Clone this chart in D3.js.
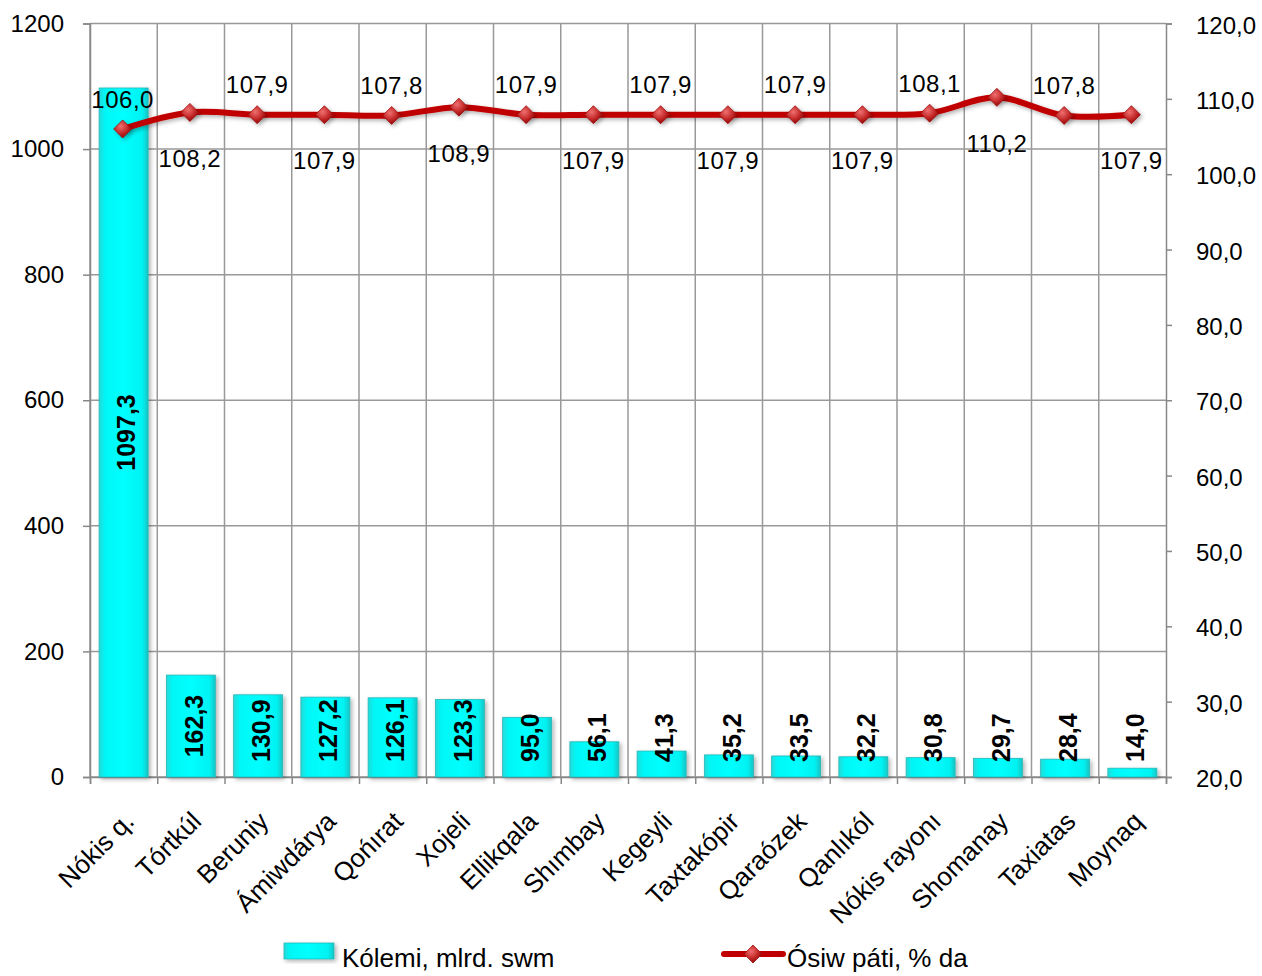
<!DOCTYPE html>
<html><head><meta charset="utf-8">
<script src="https://cdn.jsdelivr.net/npm/d3@7"></script>
<style>
body{margin:0;background:#fff;}
svg{display:block;font-family:"Liberation Sans",Arial,sans-serif;}
</style></head>
<body>
<svg id="chart" width="1262" height="976"></svg>
<script>
const categories = ["Nókis q.","Tórtkúl","Beruniy","Ámiwdárya","Qońırat","Xojeli","Ellikqala","Shımbay","Kegeyli","Taxtakópir","Qaraózek","Qanlıkól","Nókis rayonı","Shomanay","Taxiatas","Moynaq"];
const volume = [1097.3,162.3,130.9,127.2,126.1,123.3,95.0,56.1,41.3,35.2,33.5,32.2,30.8,29.7,28.4,14.0];
const growth = [106.0,108.2,107.9,107.9,107.8,108.9,107.9,107.9,107.9,107.9,107.9,107.9,108.1,110.2,107.8,107.9];
const leftTicks = [0,200,400,600,800,1000,1200];
const rightTicks = [20,30,40,50,60,70,80,90,100,110,120];
const seriesNames = ["Kólemi, mlrd. swm","Ósiw páti, % da"];

const fmt = v => v.toFixed(1).replace(".", ",");
const svg = d3.select("#chart");
const L = 90, R = 1166, T = 23.5, B = 777;
const FONT = "'Liberation Sans',Arial,sans-serif";

const x = d3.scaleBand().domain(categories).range([L, R]).paddingInner(0).paddingOuter(0);
const yL = d3.scaleLinear().domain([0,1200]).range([B, T]);
const yR = d3.scaleLinear().domain([20,120]).range([B, T]);

const defs = svg.append("defs");
const g1 = defs.append("linearGradient").attr("id","barGrad").attr("x1","0").attr("x2","1").attr("y1","0").attr("y2","0");
[["0%","#27d9d9"],["12%","#00f6f6"],["50%","#00ffff"],["88%","#00f2f2"],["100%","#17c4c4"]].forEach(s=>g1.append("stop").attr("offset",s[0]).attr("stop-color",s[1]));
const rg = defs.append("radialGradient").attr("id","mkGrad").attr("cx","40%").attr("cy","35%").attr("r","70%");
[["0%","#f07070"],["55%","#c42a2a"],["100%","#8a0000"]].forEach(s=>rg.append("stop").attr("offset",s[0]).attr("stop-color",s[1]));
const sh = defs.append("filter").attr("id","shadow").attr("x","-30%").attr("y","-30%").attr("width","160%").attr("height","160%");
sh.append("feDropShadow").attr("dx",2).attr("dy",2).attr("stdDeviation",2).attr("flood-color","#000").attr("flood-opacity",0.3);

// grid
const grid = svg.append("g");
leftTicks.forEach(t => grid.append("line").attr("x1",L).attr("x2",R).attr("y1",yL(t)).attr("y2",yL(t)).attr("stroke","#999").attr("stroke-width",1.5));
categories.forEach(c => grid.append("line").attr("x1",x(c)).attr("x2",x(c)).attr("y1",T).attr("y2",B).attr("stroke","#999").attr("stroke-width",1.5));

// axes
const axL = svg.append("g").attr("transform",`translate(${L},0)`)
  .call(d3.axisLeft(yL).tickValues(leftTicks).tickSize(7).tickPadding(19).tickFormat(d3.format("d")));
const axR = svg.append("g").attr("transform",`translate(${R},0)`)
  .call(d3.axisRight(yR).tickValues(rightTicks).tickSize(6).tickPadding(24).tickFormat(fmt));
const bounds = categories.map(c=>x(c)).concat([R]);
const axB = svg.append("g").attr("transform",`translate(0,${B})`)
  .call(d3.axisBottom(d3.scaleLinear().domain([L,R]).range([L,R])).tickValues(bounds).tickSize(7).tickFormat(""));
[axL,axR,axB].forEach(a=>{
  a.selectAll("path.domain").attr("stroke","#888").attr("stroke-width",1.5);
  a.selectAll(".tick line").attr("stroke","#888").attr("stroke-width",1.5);
  a.selectAll("text").attr("font-size",24).attr("fill","#000").attr("font-family",FONT);
});
axR.selectAll("text").attr("dy","0.4em");

// category labels
svg.append("g").selectAll("text").data(categories).join("text")
  .attr("transform", d => `translate(${x(d)+x.bandwidth()/2+12},${B+46}) rotate(-45)`)
  .attr("text-anchor","end").attr("font-size",26).text(d=>d);

// bars
const bw = 49;
const bars = svg.append("g");
bars.selectAll("rect").data(volume).join("rect")
  .attr("x",(d,i)=>x(categories[i])+x.bandwidth()/2-bw/2)
  .attr("width",bw)
  .attr("y",d=>yL(d)).attr("height",d=>B-yL(d))
  .attr("fill","url(#barGrad)").attr("stroke","#25b8b8").attr("stroke-width",0.8)
  .attr("filter","url(#shadow)");

// bar labels
const bl = svg.append("g").selectAll("text").data(volume).join("text")
  .attr("font-size",25).attr("font-weight","bold").attr("text-anchor","middle").attr("dy","0.35em")
  .text(d=>fmt(d));
bl.each(function(d,i){
  const len = this.getComputedTextLength();
  const cx = x(categories[i])+x.bandwidth()/2+3;
  const cy = Math.min((yL(d)+B)/2, B-15-len/2);
  d3.select(this).attr("transform",`translate(${cx},${cy}) rotate(-90)`);
});

// line
const pts = growth.map((v,i)=>[x(categories[i])+x.bandwidth()/2-1, yR(v)]);
svg.append("path").attr("d", d3.line().curve(d3.curveCatmullRom.alpha(0.5))(pts))
  .attr("fill","none").attr("stroke","#c00000").attr("stroke-width",6).attr("filter","url(#shadow)");
const diamond = "M0,-9L9,0L0,9L-9,0Z";
svg.append("g").selectAll("path").data(pts).join("path")
  .attr("d",diamond).attr("transform",p=>`translate(${p[0]},${p[1]})`)
  .attr("fill","url(#mkGrad)").attr("stroke","#a01010").attr("stroke-width",0.8).attr("filter","url(#shadow)");

// line labels
svg.append("g").selectAll("text").data(growth).join("text")
  .attr("x",(d,i)=>pts[i][0])
  .attr("y",(d,i)=>pts[i][1]+(i%2?46:-30))
  .attr("dy","0.36em").attr("text-anchor","middle").attr("font-size",24).attr("letter-spacing",0.5).text(d=>fmt(d));

// legend
const lg = svg.append("g");
lg.append("rect").attr("x",284).attr("y",943).attr("width",50).attr("height",16).attr("fill","url(#barGrad)").attr("stroke","#25b8b8").attr("stroke-width",0.8).attr("filter","url(#shadow)");
lg.append("text").attr("x",342).attr("y",967).attr("font-size",26).text(seriesNames[0]);
lg.append("line").attr("x1",724).attr("x2",783).attr("y1",954).attr("y2",954).attr("stroke","#c00000").attr("stroke-width",6).attr("stroke-linecap","round");
lg.append("path").attr("d",diamond).attr("transform","translate(753,954)").attr("fill","url(#mkGrad)").attr("stroke","#a01010").attr("stroke-width",0.8);
lg.append("text").attr("x",787).attr("y",967).attr("font-size",26).text(seriesNames[1]);
</script>
</body></html>
